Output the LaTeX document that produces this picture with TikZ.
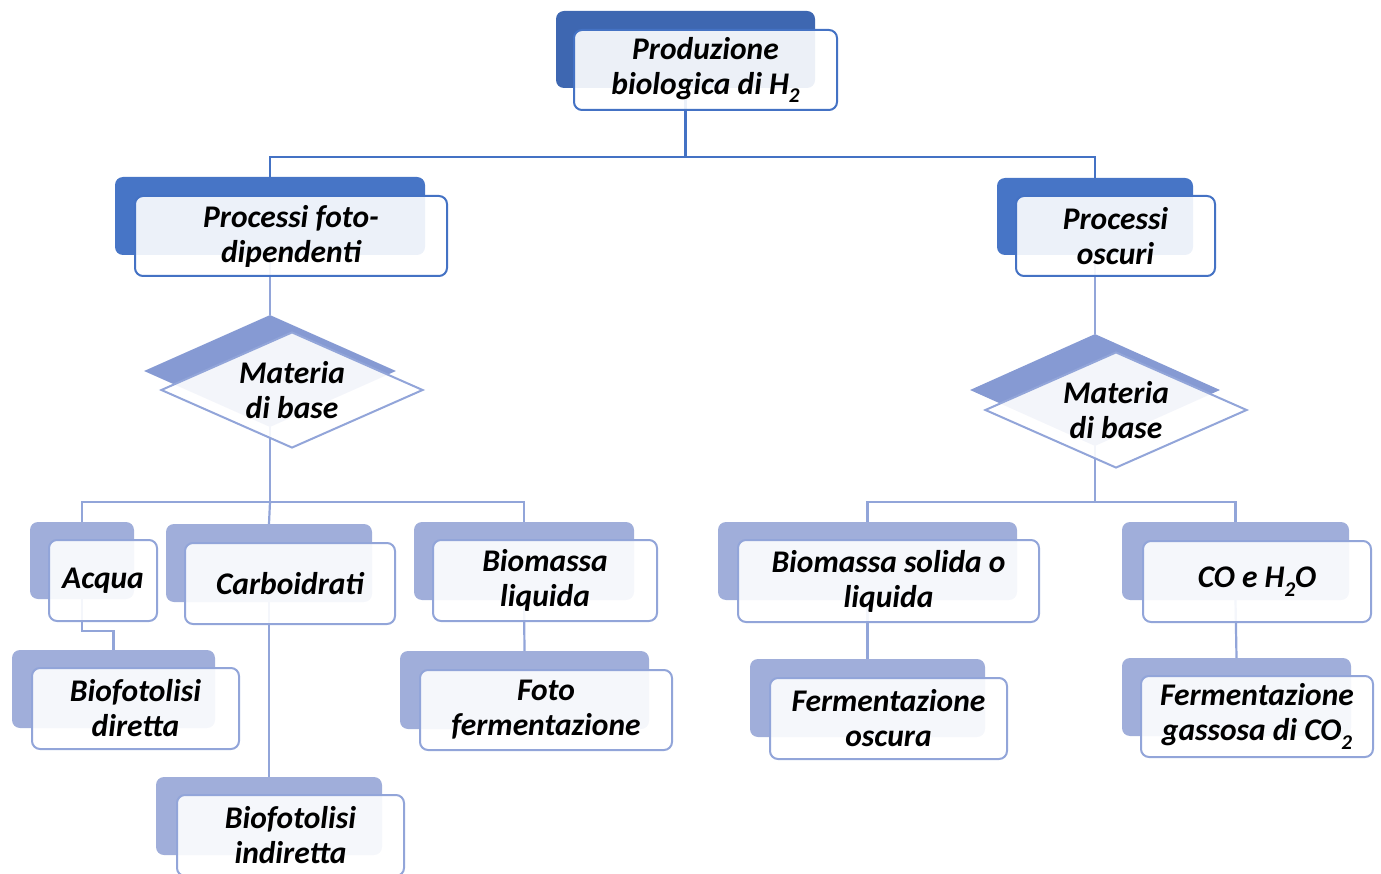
\documentclass[tikz,border=0pt]{standalone}
\usepackage{fontspec}
\setmainfont{Carlito}
\usetikzlibrary{shapes.geometric}
\definecolor{topback}{RGB}{62,103,177}
\definecolor{procback}{RGB}{71,117,198}
\definecolor{mainline}{RGB}{68,114,196}
\definecolor{diaback}{RGB}{134,154,211}
\definecolor{lowback}{RGB}{160,174,218}
\definecolor{lowline}{RGB}{146,165,217}
\newcommand\mysub[1]{\raisebox{-0.28em}{\fontsize{21}{21}\selectfont #1}}
\tikzset{
  bk/.style={rectangle, rounded corners=8pt, inner sep=0pt, draw=none},
  fr/.style={rectangle, rounded corners=8pt, inner sep=0pt, fill=white, fill opacity=0.9, text opacity=1, line width=2pt, align=center, font=\fontsize{31.5}{35}\selectfont\bfseries\itshape},
  topfr/.style={fr, draw=mainline},
  lowfr/.style={fr, draw=lowline},
  dback/.style={diamond, inner sep=0pt, fill=diaback, draw=none},
  dfront/.style={diamond, inner sep=0pt, fill=white, fill opacity=0.9, draw=lowline, line width=2pt},
  dtext/.style={align=center, font=\fontsize{31.5}{35}\selectfont\bfseries\itshape},
  ml/.style={draw=mainline, line width=2.5pt},
  ll/.style={draw=lowline, line width=2.2pt},
}
\begin{document}
\begin{tikzpicture}[x=1pt,y=-1pt]
\useasboundingbox (0,0) rectangle (1381,874);
\clip (0,0) rectangle (1381,874);
% back boxes
\node[bk, fill=topback, minimum width=259, minimum height=77] (topb) at (685.5,49.5) {};
\node[bk, fill=procback, minimum width=310, minimum height=78] (pfb) at (270,216) {};
\node[bk, fill=procback, minimum width=196, minimum height=77] (pob) at (1095,216.5) {};
\node[dback, minimum width=252, minimum height=112] (ldb) at (270,371) {};
\node[dback, minimum width=250, minimum height=112] (rdb) at (1095,390) {};
\node[bk, fill=lowback, minimum width=104, minimum height=77] (acb) at (82,560.5) {};
\node[bk, fill=lowback, minimum width=206, minimum height=78] (cab) at (269,563) {};
\node[bk, fill=lowback, minimum width=220, minimum height=78] (blb) at (524,561) {};
\node[bk, fill=lowback, minimum width=203, minimum height=78] (bdb) at (113.5,689) {};
\node[bk, fill=lowback, minimum width=226, minimum height=78] (bib) at (269,816) {};
\node[bk, fill=lowback, minimum width=249, minimum height=78] (ffb) at (524.5,690) {};
\node[bk, fill=lowback, minimum width=299, minimum height=78] (bsb) at (867.5,561) {};
\node[bk, fill=lowback, minimum width=227, minimum height=78] (cob) at (1235.5,561) {};
\node[bk, fill=lowback, minimum width=235, minimum height=78] (fob) at (867.5,698) {};
\node[bk, fill=lowback, minimum width=229, minimum height=78] (fgb) at (1236.5,697) {};
% connectors
\coordinate (j1) at (685.5,157);
\draw[ml] (topb.south) -- (j1);
\draw[ml] (pfb.north) |- (j1) -| (pob.north);
\draw[ll] (pfb.south) -- (ldb.north);
\draw[ll] (pob.south) -- (rdb.north);
\coordinate (j2) at (270,502);
\draw[ll] (ldb.south) -- (j2);
\draw[ll] (acb.north) |- (j2) -| (blb.north);
\draw[ll] (j2) -- (cab.north);
\coordinate (j3) at (1095,502);
\draw[ll] (rdb.south) -- (j3);
\draw[ll] (bsb.north) |- (j3) -| (cob.north);
\coordinate (j4) at (82,631);
\draw[ll] (acb.south) -- (j4) -| (bdb.north);
\draw[ll] (cab.south) -- (bib.north);
\draw[ll] (blb.south) -- (ffb.north);
\draw[ll] (bsb.south) -- (fob.north);
\draw[ll] (cob.south) -- (fgb.north);
% front boxes
\node[topfr, minimum width=263, minimum height=80] (top) at (705.5,70) {Produzione\\biologica di H\mysub{2}};
\node[topfr, minimum width=312, minimum height=80] (pf) at (291,236) {Processi foto-\\dipendenti};
\node[topfr, minimum width=199, minimum height=80] (po) at (1115.5,236) {Processi\\oscuri};
\node[dfront, minimum width=262, minimum height=116] (ld) at (292,390) {};
\node[dtext] (ldt) at (ld.center) {Materia\\di base};
\node[dfront, minimum width=262, minimum height=116] (rd) at (1116,410) {};
\node[dtext] (rdt) at (rd.center) {Materia\\di base};
\node[lowfr, minimum width=108, minimum height=81] (ac) at (103,580.5) {Acqua};
\node[lowfr, minimum width=210, minimum height=81] (ca) at (290,583.5) {Carboidrati};
\node[lowfr, minimum width=224, minimum height=81] (bl) at (545,580.5) {Biomassa\\liquida};
\node[lowfr, minimum width=207, minimum height=81] (bd) at (135.5,708.5) {Biofotolisi\\diretta};
\node[lowfr, minimum width=227, minimum height=81] (bi) at (290.5,835.5) {Biofotolisi\\indiretta};
\node[lowfr, minimum width=252, minimum height=80] (ff) at (546,710) {Foto\\fermentazione};
\node[lowfr, minimum width=301, minimum height=82] (bs) at (888.5,581) {Biomassa solida o\\liquida};
\node[lowfr, minimum width=228, minimum height=81] (co) at (1257,581.5) {CO e H\mysub{2}O};
\node[lowfr, minimum width=237, minimum height=81] (fo) at (888.5,718.5) {Fermentazione\\oscura};
\node[lowfr, minimum width=232, minimum height=81] (fg) at (1257,716.5) {Fermentazione\\gassosa di CO\mysub{2}};
\end{tikzpicture}
\end{document}
